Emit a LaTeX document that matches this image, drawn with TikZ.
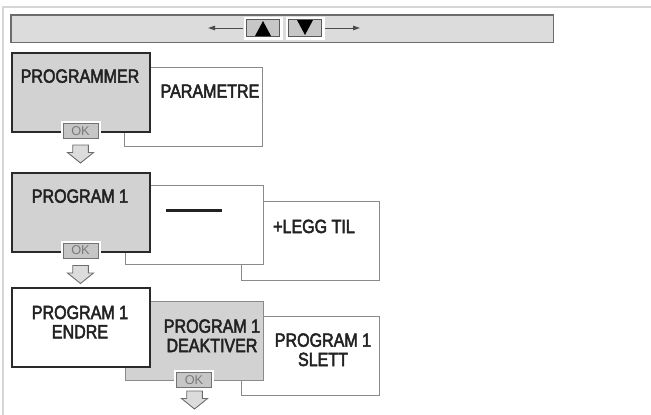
\documentclass[tikz,border=0pt]{standalone}
\usepackage{fontspec}
\setmainfont{Liberation Sans}[FakeStretch=0.84,FakeBold=2.6]
\newfontfamily\okfont{Liberation Sans}
\usetikzlibrary{arrows.meta}
\definecolor{boxgray}{HTML}{D2D2D2}
\definecolor{bargray}{HTML}{DCDCDC}
\definecolor{btngray}{HTML}{C6C6C6}
\definecolor{thinline}{HTML}{8A8A8A}
\definecolor{thickline}{HTML}{2A2A2A}
\definecolor{txt}{HTML}{222222}
\definecolor{framegray}{HTML}{D6D6D6}
\definecolor{oktext}{HTML}{7A7A7A}
\tikzset{
  panel/.style={rectangle, anchor=north west, minimum width=138pt, minimum height=79pt, inner sep=0pt},
  frontpanel/.style={panel, fill=boxgray, draw=thickline, line width=2pt},
  whitefront/.style={panel, fill=white, draw=thickline, line width=2pt},
  backpanel/.style={panel, fill=white, draw=thinline, line width=1.3pt},
  graypanel/.style={panel, fill=boxgray, draw=thinline, line width=1.3pt},
  lbl/.style={anchor=base, inner sep=0pt, text=txt, font=\fontsize{19.1}{19.3}\selectfont, align=center},
  okbtn/.style={rectangle, minimum width=35pt, minimum height=15pt, inner sep=0pt, fill=btngray, draw=gray!90!black, line width=0.9pt, text=oktext, font=\okfont\fontsize{12.8}{12.8}\selectfont, preaction={draw=white, line width=5pt}},
  keybtn/.style={rectangle, minimum width=33pt, minimum height=17pt, inner sep=0pt, fill=btngray, draw=gray!70!black, line width=0.9pt, preaction={draw=white, line width=6pt}},
  pics/downarrow/.style={code={
    \draw[fill=bargray, draw=gray!85!black, line width=0.9pt, line join=miter]
      (-7.8,0) -- (7.8,0) -- (7.8,7.5) -- (13,7.5) -- (0,18) -- (-13,7.5) -- (-7.8,7.5) -- cycle;}},
  navarrow/.style={draw=gray!60!black, line width=1pt, -{Triangle[length=7pt, width=4.5pt]}}
}
\begin{document}
\begin{tikzpicture}[x=1pt, y=-1pt]
\useasboundingbox (0,0) rectangle (651,415);
% frame
\draw[framegray, line width=2pt] (3,415) -- (3,6.5) -- (651,6.5);
% top bar
\node[rectangle, anchor=north west, minimum width=542.7pt, minimum height=27.7pt, inner sep=0pt, fill=bargray, draw=gray!85!black, line width=1.5pt] (bar) at (10,14) {};
\node[keybtn] (up) at (263,28) {};
\node[keybtn] (down) at (305,28) {};
\fill[black] (255,36) -- (271,36) -- (263,21) -- cycle;
\fill[black] (297,20) -- (313,20) -- (305,35) -- cycle;
\coordinate (lefttip) at (208,28);
\coordinate (righttip) at (360,28);
\draw[navarrow] ([xshift=-3pt]up.west) -- (lefttip);
\draw[navarrow] ([xshift=3pt]down.east) -- (righttip);
% row 1
\node[backpanel] (parametre) at (124,66.7) {};
\node[frontpanel] (programmer) at (11,52) {};
\node[lbl] (tprogrammer) at (80,82.7) {PROGRAMMER};
\node[lbl] (tparametre) at (210,97.7) {PARAMETRE};
\node[okbtn] (ok1) at (80.5,130.8) {OK};
\pic at (80.5,145) {downarrow};
% row 2
\node[backpanel] (legg) at (241,200.7) {};
\node[backpanel] (empty) at (125,185) {};
\node[frontpanel] (prog1) at (11,171.7) {};
\node[lbl] (tprog1) at (80,202.7) {PROGRAM 1};
\draw[txt, line width=2.6pt] (166,210.7) -- (222,210.7);
\node[lbl] (tlegg) at (314,233) {+LEGG TIL};
\node[okbtn] (ok2) at (80.5,250.5) {OK};
\pic at (80.5,265.5) {downarrow};
% row 3
\node[backpanel] (slett) at (241,316) {};
\node[graypanel] (deakt) at (125,301) {};
\node[whitefront] (endre) at (11,287) {};
\node[lbl] (tendre) at (80,338.3) {PROGRAM 1\\ENDRE};
\node[lbl] (tdeakt) at (212,352) {PROGRAM 1\\DEAKTIVER};
\node[lbl] (tslett) at (323,366) {PROGRAM 1\\SLETT};
\node[okbtn] (ok3) at (194,380) {OK};
\pic at (194.5,391) {downarrow};
\end{tikzpicture}
\end{document}
